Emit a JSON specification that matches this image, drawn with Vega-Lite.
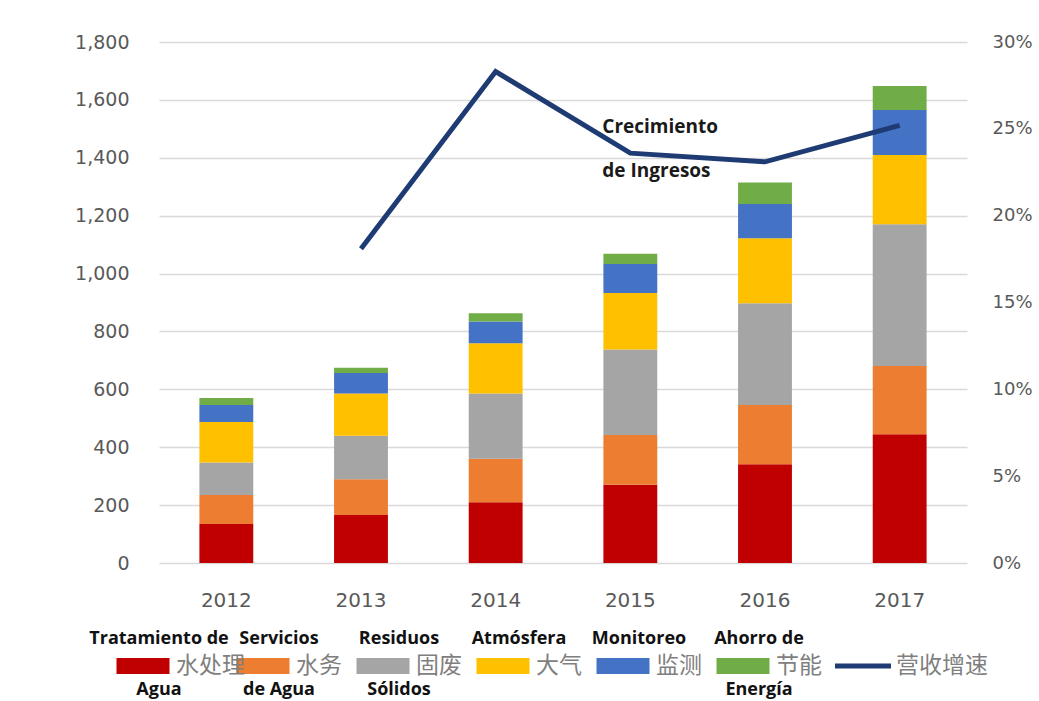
{
  "$schema": "https://vega.github.io/schema/vega-lite/v6.json",
  "padding": {"left": 74, "top": 33, "right": 0, "bottom": 0},
  "spacing": 20,
  "config": {"view": {"stroke": null}, "font": "DejaVu Sans"},
  "resolve": {"scale": {"x": "independent", "color": "independent"}},
  "datasets": {
    "bars": [
      {"year": "2012", "category": "水处理", "ord": 1, "value": 135},
      {"year": "2012", "category": "水务", "ord": 2, "value": 100},
      {"year": "2012", "category": "固废", "ord": 3, "value": 112},
      {"year": "2012", "category": "大气", "ord": 4, "value": 140},
      {"year": "2012", "category": "监测", "ord": 5, "value": 59},
      {"year": "2012", "category": "节能", "ord": 6, "value": 24},
      {"year": "2013", "category": "水处理", "ord": 1, "value": 166},
      {"year": "2013", "category": "水务", "ord": 2, "value": 123},
      {"year": "2013", "category": "固废", "ord": 3, "value": 151},
      {"year": "2013", "category": "大气", "ord": 4, "value": 146},
      {"year": "2013", "category": "监测", "ord": 5, "value": 70},
      {"year": "2013", "category": "节能", "ord": 6, "value": 19},
      {"year": "2014", "category": "水处理", "ord": 1, "value": 210},
      {"year": "2014", "category": "水务", "ord": 2, "value": 150},
      {"year": "2014", "category": "固废", "ord": 3, "value": 226},
      {"year": "2014", "category": "大气", "ord": 4, "value": 173},
      {"year": "2014", "category": "监测", "ord": 5, "value": 75},
      {"year": "2014", "category": "节能", "ord": 6, "value": 29},
      {"year": "2015", "category": "水处理", "ord": 1, "value": 270},
      {"year": "2015", "category": "水务", "ord": 2, "value": 172},
      {"year": "2015", "category": "固废", "ord": 3, "value": 296},
      {"year": "2015", "category": "大气", "ord": 4, "value": 195},
      {"year": "2015", "category": "监测", "ord": 5, "value": 100},
      {"year": "2015", "category": "节能", "ord": 6, "value": 35},
      {"year": "2016", "category": "水处理", "ord": 1, "value": 341},
      {"year": "2016", "category": "水务", "ord": 2, "value": 205},
      {"year": "2016", "category": "固废", "ord": 3, "value": 351},
      {"year": "2016", "category": "大气", "ord": 4, "value": 225},
      {"year": "2016", "category": "监测", "ord": 5, "value": 118},
      {"year": "2016", "category": "节能", "ord": 6, "value": 75},
      {"year": "2017", "category": "水处理", "ord": 1, "value": 445},
      {"year": "2017", "category": "水务", "ord": 2, "value": 236},
      {"year": "2017", "category": "固废", "ord": 3, "value": 489},
      {"year": "2017", "category": "大气", "ord": 4, "value": 240},
      {"year": "2017", "category": "监测", "ord": 5, "value": 155},
      {"year": "2017", "category": "节能", "ord": 6, "value": 83}
    ],
    "growth": [
      {"year": "2013", "growth": 0.181},
      {"year": "2014", "growth": 0.283},
      {"year": "2015", "growth": 0.236},
      {"year": "2016", "growth": 0.231},
      {"year": "2017", "growth": 0.252}
    ],
    "notes": [
      {"year": "2015", "value": 1507, "label": "Crecimiento"},
      {"year": "2015", "value": 1355, "label": "de Ingresos"}
    ],
    "legend": [
      {"key": "水处理", "kind": "bar", "top": "Tratamiento de", "bottom": "Agua"},
      {"key": "水务", "kind": "bar", "top": "Servicios", "bottom": "de Agua"},
      {"key": "固废", "kind": "bar", "top": "Residuos", "bottom": "Sólidos"},
      {"key": "大气", "kind": "bar", "top": "Atmósfera", "bottom": ""},
      {"key": "监测", "kind": "bar", "top": "Monitoreo", "bottom": ""},
      {"key": "节能", "kind": "bar", "top": "Ahorro de", "bottom": "Energía"},
      {"key": "营收增速", "kind": "line", "top": "", "bottom": ""}
    ]
  },
  "vconcat": [
    {
      "width": 808,
      "height": 521,
      "layer": [
        {
          "layer": [
            {
              "data": {"name": "bars"},
              "mark": {"type": "bar"},
              "encoding": {
                "x": {
                  "field": "year", "type": "ordinal",
                  "scale": {"paddingInner": 0.6, "paddingOuter": 0.3},
                  "axis": {"title": null, "labelAngle": 0, "labelFontSize": 20, "labelColor": "#595959", "labelPadding": 27, "ticks": false, "domain": false}
                },
                "y": {
                  "field": "value", "type": "quantitative", "stack": "zero",
                  "scale": {"domain": [0, 1800]},
                  "axis": {"title": null, "values": [0, 200, 400, 600, 800, 1000, 1200, 1400, 1600, 1800], "format": ",d", "grid": true, "gridColor": "#d9d9d9", "gridWidth": 1.5, "domain": false, "ticks": false, "labelPadding": 30, "labelFontSize": 19, "labelColor": "#595959"}
                },
                "color": {
                  "field": "category", "type": "nominal",
                  "scale": {"domain": ["水处理", "水务", "固废", "大气", "监测", "节能"], "range": ["#c00000", "#ed7d31", "#a5a5a5", "#ffc000", "#4472c4", "#70ad47"]},
                  "legend": null
                },
                "order": {"field": "ord", "type": "quantitative"}
              }
            },
            {
              "data": {"name": "notes"},
              "mark": {"type": "text", "align": "left", "dx": -28, "font": "Open Sans", "fontWeight": "bold", "fontSize": 19, "color": "#1a1a1a"},
              "encoding": {
                "x": {"field": "year", "type": "ordinal"},
                "y": {"field": "value", "type": "quantitative"},
                "text": {"field": "label"}
              }
            }
          ]
        },
        {
          "data": {"name": "growth"},
          "mark": {"type": "line", "color": "#1f3b74", "strokeWidth": 5},
          "encoding": {
            "x": {"field": "year", "type": "ordinal"},
            "y": {
              "field": "growth", "type": "quantitative",
              "scale": {"domain": [0, 0.3]},
              "axis": {"orient": "right", "title": null, "values": [0, 0.05, 0.1, 0.15, 0.2, 0.25, 0.3], "format": ".0%", "grid": false, "domain": false, "ticks": false, "labelPadding": 25, "labelFontSize": 18, "labelColor": "#595959"}
            }
          }
        }
      ],
      "resolve": {"scale": {"y": "independent"}}
    },
    {
      "width": 720,
      "height": 40,
      "data": {"name": "legend"},
      "encoding": {
        "x": {"field": "key", "type": "ordinal", "sort": null, "scale": {"type": "point", "padding": 0}, "axis": null}
      },
      "layer": [
        {
          "transform": [{"filter": "datum.kind == 'bar'"}],
          "mark": {"type": "point", "shape": "M-1,-0.3H1V0.3H-1Z", "size": 2809, "filled": true, "opacity": 1, "xOffset": -16},
          "encoding": {
            "color": {
              "field": "key", "type": "nominal",
              "scale": {"domain": ["水处理", "水务", "固废", "大气", "监测", "节能"], "range": ["#c00000", "#ed7d31", "#a5a5a5", "#ffc000", "#4472c4", "#70ad47"]},
              "legend": null
            }
          }
        },
        {
          "transform": [{"filter": "datum.kind == 'line'"}],
          "mark": {"type": "point", "shape": "M-1,-0.09H1V0.09H-1Z", "size": 3136, "filled": true, "opacity": 1, "color": "#1f3b74", "xOffset": -16}
        },
        {
          "mark": {"type": "text", "align": "left", "xOffset": 17, "font": "Noto Sans CJK SC", "fontSize": 23, "color": "#7f7f7f"},
          "encoding": {"text": {"field": "key"}}
        },
        {
          "mark": {"type": "text", "align": "center", "xOffset": 0, "dy": -27, "font": "Open Sans", "fontWeight": "bold", "fontSize": 18, "color": "#111111"},
          "encoding": {"text": {"field": "top"}}
        },
        {
          "mark": {"type": "text", "align": "center", "xOffset": 0, "dy": 24, "font": "Open Sans", "fontWeight": "bold", "fontSize": 18, "color": "#111111"},
          "encoding": {"text": {"field": "bottom"}}
        }
      ]
    }
  ]
}
